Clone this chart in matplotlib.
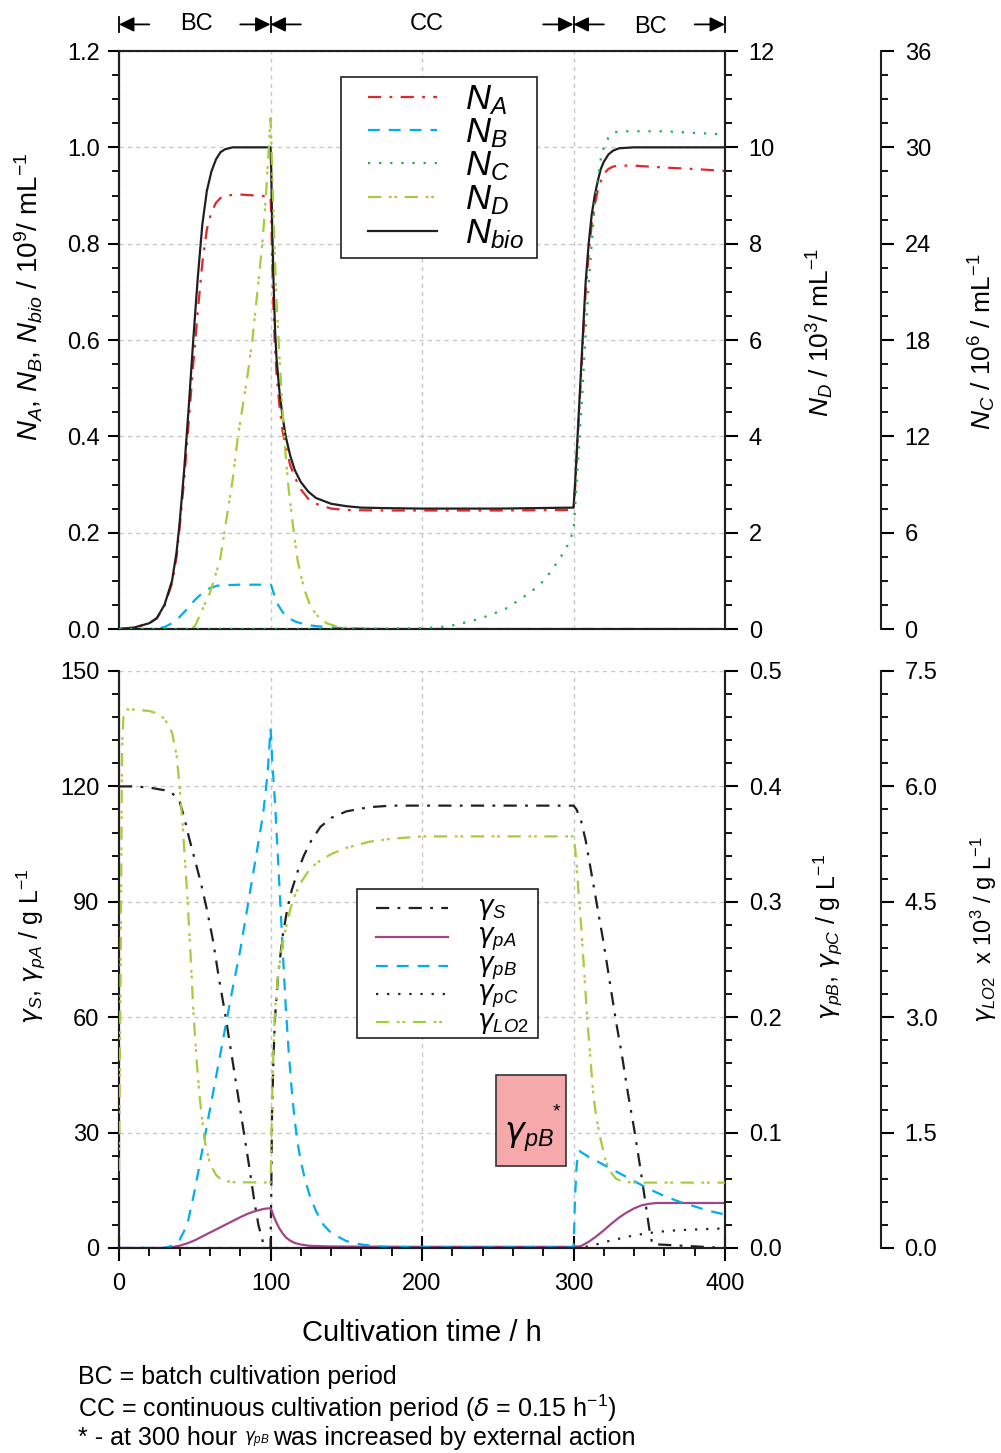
import matplotlib
matplotlib.use('Agg')
import matplotlib.pyplot as plt
import matplotlib.transforms as mtransforms
from matplotlib.ticker import MultipleLocator, FormatStrFormatter
from matplotlib.patches import Rectangle
from matplotlib.lines import Line2D

plt.rcParams['font.family'] = ['Liberation Sans', 'DejaVu Sans']
plt.rcParams['mathtext.fontset'] = 'custom'
plt.rcParams['mathtext.rm'] = 'Liberation Sans'
plt.rcParams['mathtext.it'] = 'Liberation Sans:italic'
plt.rcParams['mathtext.bf'] = 'Liberation Sans:bold'
plt.rcParams['mathtext.sf'] = 'DejaVu Sans:italic'
plt.rcParams['lines.scale_dashes'] = False

# ---------------- upper panel: cell numbers ----------------
# N_bio, 10^9 / mL
t_bio = [0, 10, 20, 25, 30, 35, 38, 40, 43, 46, 49, 52, 55, 58, 61, 64, 67, 70, 75, 80, 100,
         100.5, 101, 102, 103, 104, 106, 108, 110, 113, 116, 120, 125, 130, 140, 150, 160, 175,
         200, 250, 300, 301, 302, 304, 306, 308, 310, 312, 314, 316, 318, 320, 323, 326, 330,
         340, 400]
n_bio = [0, 0.003, 0.012, 0.023, 0.05, 0.1, 0.16, 0.22, 0.33, 0.46, 0.6, 0.73, 0.84, 0.91,
         0.95, 0.975, 0.99, 0.996, 1.0, 1.0, 1.0,
         0.95, 0.85, 0.72, 0.62, 0.56, 0.49, 0.44, 0.4, 0.36, 0.33, 0.305, 0.285, 0.272, 0.26,
         0.255, 0.252, 0.251, 0.25, 0.25, 0.252, 0.3, 0.36, 0.48, 0.6, 0.72, 0.8, 0.86, 0.9,
         0.93, 0.955, 0.97, 0.985, 0.993, 0.998, 1.0, 1.0]

# N_A, 10^9 / mL
t_a = [0, 10, 20, 25, 30, 35, 38, 40, 43, 46, 49, 52, 55, 58, 61, 64, 67, 70, 80, 90, 100,
       100.5, 101, 102, 103, 104, 106, 108, 110, 113, 116, 120, 125, 130, 140, 150, 175, 200,
       250, 300, 301, 302, 304, 306, 308, 310, 312, 314, 316, 318, 320, 323, 326, 330, 340,
       360, 380, 400]
n_a = [0, 0.003, 0.012, 0.022, 0.048, 0.095, 0.15, 0.21, 0.31, 0.43, 0.55, 0.66, 0.76, 0.83,
       0.865, 0.885, 0.895, 0.9, 0.902, 0.9, 0.898,
       0.86, 0.78, 0.66, 0.58, 0.53, 0.46, 0.41, 0.38, 0.34, 0.315, 0.29, 0.27, 0.26, 0.25,
       0.247, 0.246, 0.246, 0.246, 0.247, 0.29, 0.35, 0.47, 0.59, 0.7, 0.78, 0.84, 0.88, 0.91,
       0.93, 0.945, 0.955, 0.96, 0.962, 0.962, 0.958, 0.955, 0.951]

# N_B, 10^9 / mL
t_b = [0, 20, 25, 30, 35, 40, 45, 50, 55, 60, 65, 70, 80, 90, 100, 100.5, 101, 103, 105, 108,
       110, 113, 116, 120, 125, 130, 140, 150, 160, 175, 200, 400]
n_b = [0, 0, 0.001, 0.004, 0.012, 0.025, 0.042, 0.06, 0.075, 0.085, 0.09, 0.091, 0.092, 0.092,
       0.092, 0.09, 0.085, 0.065, 0.05, 0.035, 0.028, 0.021, 0.016, 0.012, 0.008, 0.006, 0.003,
       0.0015, 0.001, 0, 0, 0]

# N_C, 10^6 / mL
t_c = [0, 150, 175, 200, 212, 222, 235, 245, 255, 263, 272, 281, 288, 295, 300, 301, 302, 304,
       306, 308, 310, 312, 314, 316, 318, 320, 323, 326, 330, 340, 360, 380, 400]
n_c = [0, 0, 0.02, 0.06, 0.12, 0.25, 0.56, 0.87, 1.25, 1.74, 2.31, 3.06, 3.99, 4.98, 6.1, 7.5,
       9, 12, 15, 18.5, 21.5, 24, 26.5, 28, 29.3, 30, 30.6, 30.9, 31, 31, 31, 30.9, 30.8]

# N_D, 10^3 / mL
t_d = [0, 45, 50, 55, 60, 66.7, 70, 75, 78.5, 85, 88, 91, 94.6, 97, 100, 101, 102, 103, 104,
       106, 108, 110, 112, 115, 118, 122, 126, 130, 137, 145, 155, 170, 400]
n_d = [0, 0, 0.05, 0.4, 0.75, 1.43, 2.1, 3.1, 4.0, 5.3, 6.0, 6.9, 8.0, 9.0, 10.6, 9.6, 8.6,
       7.6, 6.8, 5.6, 4.5, 3.6, 2.9, 2.1, 1.4, 0.85, 0.5, 0.3, 0.12, 0.04, 0.01, 0, 0]

# ---------------- lower panel: concentrations ----------------
# gamma_S, g/L
t_s = [0, 10, 20, 30, 35, 40, 43, 46, 50, 54, 58, 62, 66, 70, 74, 78, 82, 86, 89, 92, 95, 97,
       100, 100.5, 101, 102, 103, 105, 108, 111, 114, 118, 122, 127, 133, 140, 150, 165, 180,
       300, 302, 305, 308, 312, 316, 320, 324, 328, 332, 336, 340, 344, 347, 350, 352, 400]
g_s = [120, 120, 119.7, 119, 118.3, 116, 112, 107, 101, 95, 88, 80, 70, 61, 51, 41, 31, 21, 13,
       6, 1.5, 0, 0, 15, 35, 50, 60, 71, 81, 88, 93, 98, 102, 106, 109.5, 111.8, 113.5, 114.6,
       115, 115, 114, 111, 106, 97, 88, 79, 69, 59, 50, 40, 31, 21, 13, 5, 1, 0]

# gamma_pA, g/L
t_pa = [0, 30, 35, 40, 45, 50, 55, 60, 65, 70, 75, 80, 85, 90, 95, 98, 100, 101, 102, 104, 106,
        108, 110, 113, 116, 120, 125, 130, 140, 160, 200, 300, 305, 310, 315, 320, 325, 330, 335,
        340, 345, 350, 355, 400]
g_pa = [0, 0, 0.2, 0.6, 1.2, 2, 3, 4, 5, 6, 7, 8, 8.9, 9.6, 10.1, 10.3, 10.3, 9.5, 8.3, 6.5, 5,
        3.8, 2.8, 1.9, 1.3, 0.9, 0.6, 0.5, 0.4, 0.35, 0.3, 0.3, 0.5, 1.6, 3.0, 4.6, 6.3, 7.9, 9.2,
        10.3, 11.1, 11.5, 11.7, 11.7]

# gamma_pB, g/L
t_pb = [0, 30, 35, 40, 45, 50, 55, 60, 65, 70, 75, 80, 85, 90, 95, 98, 100, 100.5, 101, 102,
        103, 104, 105, 106, 108, 110, 112, 114, 116, 118, 120, 123, 126, 130, 135, 140, 150, 160,
        175, 200, 300, 300.5, 301, 302, 303, 304, 305, 310, 320, 330, 340, 350, 360, 370, 380,
        390, 400]
g_pb = [0, 0, 0.002, 0.007, 0.02, 0.05, 0.085, 0.12, 0.155, 0.19, 0.225, 0.258, 0.297, 0.336,
        0.375, 0.41, 0.45, 0.44, 0.425, 0.405, 0.385, 0.36, 0.335, 0.31, 0.26, 0.21, 0.17, 0.137,
        0.11, 0.09, 0.075, 0.058, 0.045, 0.032, 0.02, 0.013, 0.006, 0.003, 0.001, 0.0005, 0.0005,
        0.02, 0.045, 0.07, 0.082, 0.084, 0.083, 0.079, 0.072, 0.065, 0.058, 0.051, 0.045, 0.04,
        0.036, 0.032, 0.029]

# gamma_pC, g/L
t_pc = [0, 300, 305, 310, 315, 320, 330, 340, 350, 360, 370, 380, 390, 400]
g_pc = [0, 0, 0.0005, 0.0015, 0.003, 0.005, 0.008, 0.011, 0.013, 0.0145, 0.0155, 0.016, 0.0165,
        0.017]

# gamma_LO2, 10^-3 g/L
t_lo2 = [0, 1, 2, 3, 5, 10, 20, 25, 30, 35, 38, 40, 42, 45, 47, 49, 51, 53, 55, 57, 60, 64, 68,
         75, 100, 100.5, 101, 102, 103, 105, 107, 110, 113, 116, 120, 125, 130, 140, 150, 165,
         180, 200, 300, 301, 302, 303, 305, 307, 309, 311, 313, 315, 318, 321, 324, 328, 333,
         340, 400]
g_lo2 = [1.0, 3.5, 6.5, 6.95, 7.0, 7.0, 6.98, 6.95, 6.88, 6.7, 6.4, 6.0, 5.5, 4.6, 3.9, 3.1,
         2.5, 2.0, 1.65, 1.35, 1.1, 0.95, 0.88, 0.855, 0.85, 1.3, 1.9, 2.6, 3.1, 3.55, 3.85,
         4.15, 4.4, 4.58, 4.75, 4.9, 5.0, 5.12, 5.2, 5.28, 5.32, 5.35, 5.35, 5.2, 5.0, 4.7, 4.2,
         3.6, 3.0, 2.5, 2.0, 1.7, 1.4, 1.15, 1.0, 0.9, 0.86, 0.85, 0.85]

x_ticks = [0, 100, 200, 300, 400]

RED = '#E3262A'
BLUE = '#00AEEF'
GREEN = '#1BAF4B'
LIME = '#A3CD3A'
PURPLE = '#A1458B'
BLACK = '#231F20'
GRID = '#c8c8c8'

LW = 1.6
DASHDOT = (0, (9.5, 6, 2, 6))
DASHED = (0, (8.5, 6.5))
DOTTED = (0, (1.6, 6.4))
DASHDOTDOT = (0, (9.5, 5.5, 2, 2, 2, 5.5))

FS = 17
G = r'\mathsf{\gamma}'

fig = plt.figure(figsize=(10.01, 14.53), dpi=100)
ax1 = fig.add_axes([0.1189, 0.5671, 0.6054, 0.3978])
ax2 = fig.add_axes([0.1189, 0.1411, 0.6054, 0.3971])

# pixel-based transform (origin top-left) for legend keys and notes
px = mtransforms.Affine2D().scale(1 / 1001, -1 / 1453).translate(0, 1) + fig.transFigure

ax1r = ax1.twinx()
ax1c = ax1.twinx()
ax2r = ax2.twinx()
ax2c = ax2.twinx()

for third in (ax1c, ax2c):
    third.spines['right'].set_position(('axes', 1.2574))
    for s in ('top', 'bottom', 'left'):
        third.spines[s].set_visible(False)

for a in (ax1, ax1r, ax1c, ax2, ax2r, ax2c):
    for s in a.spines.values():
        s.set_linewidth(1.5)
        s.set_color(BLACK)
    a.set_xlim(0, 400)

# ---- upper panel curves
l_a, = ax1.plot(t_a, n_a, color=RED, lw=LW, ls=DASHDOT)
l_b, = ax1.plot(t_b, n_b, color=BLUE, lw=LW, ls=DASHED)
l_bio, = ax1.plot(t_bio, n_bio, color=BLACK, lw=LW, ls='-')
l_d, = ax1r.plot(t_d, n_d, color=LIME, lw=LW, ls=DASHDOTDOT)
l_c, = ax1c.plot(t_c, n_c, color=GREEN, lw=LW, ls=DOTTED)

ax1.set_ylim(0, 1.2)
ax1r.set_ylim(0, 12)
ax1c.set_ylim(0, 36)

ax1.yaxis.set_major_locator(MultipleLocator(0.2))
ax1.yaxis.set_minor_locator(MultipleLocator(0.05))
ax1.yaxis.set_major_formatter(FormatStrFormatter('%.1f'))
ax1r.yaxis.set_major_locator(MultipleLocator(2))
ax1r.yaxis.set_minor_locator(MultipleLocator(0.5))
ax1c.yaxis.set_major_locator(MultipleLocator(6))
ax1c.yaxis.set_minor_locator(MultipleLocator(1.5))

ax1.set_xticks(x_ticks)
ax1.tick_params(axis='x', which='both', length=0, labelbottom=False)

# ---- lower panel curves
l_s, = ax2.plot(t_s, g_s, color=BLACK, lw=LW, ls=DASHDOT)
l_pa, = ax2.plot(t_pa, g_pa, color=PURPLE, lw=LW, ls='-')
l_pb, = ax2r.plot(t_pb, g_pb, color=BLUE, lw=LW, ls=DASHED)
l_pc, = ax2r.plot(t_pc, g_pc, color=BLACK, lw=LW, ls=DOTTED)
l_lo2, = ax2c.plot(t_lo2, g_lo2, color=LIME, lw=LW, ls=DASHDOTDOT)

ax2.set_ylim(0, 150)
ax2r.set_ylim(0, 0.5)
ax2c.set_ylim(0, 7.5)
for a in (ax2, ax2r, ax2c):
    a.spines['top'].set_visible(False)

ax2.yaxis.set_major_locator(MultipleLocator(30))
ax2.yaxis.set_minor_locator(MultipleLocator(6))
ax2r.yaxis.set_major_locator(MultipleLocator(0.1))
ax2r.yaxis.set_minor_locator(MultipleLocator(0.02))
ax2r.yaxis.set_major_formatter(FormatStrFormatter('%.1f'))
ax2c.yaxis.set_major_locator(MultipleLocator(1.5))
ax2c.yaxis.set_minor_locator(MultipleLocator(0.3))
ax2c.yaxis.set_major_formatter(FormatStrFormatter('%.1f'))

ax2.set_xticks(x_ticks)
ax2.xaxis.set_minor_locator(MultipleLocator(20))
ax2.tick_params(axis='x', which='major', direction='inout', length=18, width=1.5,
                labelsize=FS, pad=9)
ax2.tick_params(axis='x', which='minor', direction='out', length=6, width=1.3)

for a in (ax1, ax2):
    a.tick_params(axis='y', which='major', direction='out', length=8, width=1.5,
                  labelsize=FS, pad=6)
    a.tick_params(axis='y', which='minor', direction='out', length=5, width=1.3)
for a in (ax1r, ax2r, ax1c, ax2c):
    a.tick_params(axis='y', which='major', direction='out', length=9, width=1.5,
                  labelsize=FS, pad=8)
    a.tick_params(axis='y', which='minor', direction='out', length=5, width=1.3)

# grids
for a in (ax1, ax2):
    a.grid(True, which='major', color=GRID, linestyle=(0, (3, 3)), linewidth=1.0)
    a.set_axisbelow(True)

# ---- axis labels
ax1.set_ylabel(r'$N_A$, $N_B$, $N_{bio}$ / 10$^9$/ mL$^{-1}$', fontsize=20)
ax1.yaxis.set_label_coords(-0.122, 0.574)
ax1r.set_ylabel(r'$N_D$ / 10$^3$/ mL$^{-1}$', fontsize=19)
ax1r.yaxis.set_label_coords(1.132, 0.514)
ax1c.set_ylabel(r'$N_C$ / 10$^6$ / mL$^{-1}$', fontsize=19)
ax1c.yaxis.set_label_coords(1.399, 0.497)

ax2.set_ylabel(rf'${G}_{{S}}$, ${G}_{{pA}}$ / g L$^{{-1}}$', fontsize=18)
ax2.yaxis.set_label_coords(-0.117, 0.522)
ax2r.set_ylabel(rf'${G}_{{pB}}$, ${G}_{{pC}}$ / g L$^{{-1}}$', fontsize=18)
ax2r.yaxis.set_label_coords(1.144, 0.539)
ax2c.set_ylabel(rf'${G}_{{LO2}}$  x 10$^3$ / g L$^{{-1}}$', fontsize=17)
ax2c.yaxis.set_label_coords(1.402, 0.551)

ax2.set_xlabel('Cultivation time / h', fontsize=21)
ax2.xaxis.set_label_coords(0.5, -(1333 - 1248) / 577)
ax2.xaxis.label.set_va('center')


# ---- legends (framed keys drawn on the figure)
def key_box(x0, y0, x1, y1, rows, lines, labels, hx0, hx1, tx, fs, dy):
    fig.add_artist(Rectangle((x0, y0), x1 - x0, y1 - y0, transform=px, facecolor='white',
                             edgecolor=BLACK, lw=1.2, zorder=10))
    for yr, ln, lab in zip(rows, lines, labels):
        fig.add_artist(Line2D([hx0, hx1], [yr, yr], transform=px, color=ln.get_color(),
                              lw=ln.get_linewidth(), ls=ln.get_linestyle(), zorder=11))
        ln_key = fig.artists[-1]
        ln_key.set_dashes(ln._unscaled_dash_pattern[1]) if ln._unscaled_dash_pattern[1] else None
        fig.text(tx, yr + dy, lab, transform=px, fontsize=fs, va='center', ha='left',
                 zorder=11)


key_box(341, 77, 537, 258, [97, 130, 163, 197, 231], [l_a, l_b, l_c, l_d, l_bio],
        [r'$N_A$', r'$N_B$', r'$N_C$', r'$N_D$', r'$N_{bio}$'], 368, 437, 465, 25, 3)
key_box(357, 889, 538, 1038, [908, 937, 966, 994, 1022], [l_s, l_pa, l_pb, l_pc, l_lo2],
        [rf'${G}_{{S}}$', rf'${G}_{{pA}}$', rf'${G}_{{pB}}$', rf'${G}_{{pC}}$',
         rf'${G}_{{LO2}}$'], 376, 448, 477, 19, 2)

# ---- highlighted note box in the lower panel
fig.add_artist(Rectangle((496, 1075), 70, 91, transform=px, facecolor='#F5A9AB',
                         edgecolor='#333333', lw=1.2, zorder=10))
fig.text(529, 1137, rf'${G}_{{pB}}$', transform=px, ha='center', va='center', fontsize=24,
         zorder=11)
fig.text(556, 1112, '*', transform=px, ha='center', va='center', fontsize=14, zorder=11)

# ---- period markers above the upper panel
trans = mtransforms.blended_transform_factory(ax1.transData, ax1.transAxes)
ya = 1.046
arrow_kw = dict(arrowstyle='-|>,head_length=0.45,head_width=0.22', mutation_scale=20,
                lw=1.3, color='black', shrinkA=0, shrinkB=0)


def period_arrow(x_from, x_to):
    ax1.annotate('', xy=(x_to, ya), xytext=(x_from, ya), xycoords=trans, textcoords=trans,
                 arrowprops=arrow_kw, annotation_clip=False)


for xb in (0, 100, 300, 400):
    ax1.plot([xb, xb], [ya - 0.013, ya + 0.013], transform=trans, color='black', lw=1.3,
             clip_on=False)
period_arrow(20, 0)
period_arrow(80, 100)
period_arrow(120, 100)
period_arrow(280, 300)
period_arrow(320, 300)
period_arrow(380, 400)
ax1.text(51, ya, 'BC', transform=trans, ha='center', va='center', fontsize=17)
ax1.text(203, ya, 'CC', transform=trans, ha='center', va='center', fontsize=17)
ax1.text(350.5, ya - 0.004, 'BC', transform=trans, ha='center', va='center', fontsize=17)

# ---- footnotes
fig.text(78, 1377, 'BC = batch cultivation period', transform=px, fontsize=18,
         va='center', ha='left')
fig.text(78, 1408, rf'CC = continuous cultivation period (${{\mathsf{{\delta}}}}$ = 0.15 h$^{{-1}}$)',
         transform=px, fontsize=18, va='center', ha='left')

renderer = fig.canvas.get_renderer()
note_a = fig.text(78, 1438, '* - at 300 hour ', transform=px, fontsize=18, va='center',
                  ha='left')
xa = note_a.get_window_extent(renderer).x1
note_b = fig.text(xa / fig.bbox.width, 1 - 1440 / 1453, rf'${G}_{{pB}}$', fontsize=12,
                  va='center', ha='left')
xb_ = note_b.get_window_extent(renderer).x1
fig.text(xb_ / fig.bbox.width + 0.003, 1 - 1438 / 1453, 'was increased by external action',
         fontsize=18, va='center', ha='left')

fig.savefig('out.png', dpi=100)
